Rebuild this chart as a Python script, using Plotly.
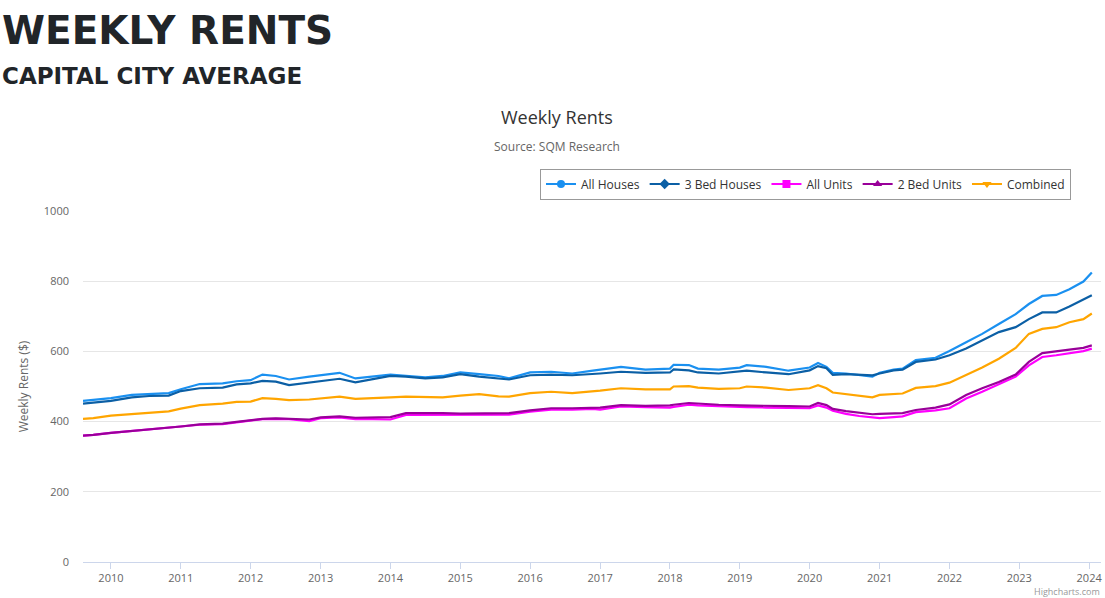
import plotly.graph_objects as go

dates = ["2009-08-08", "2009-10-01", "2010-01-01", "2010-04-20", "2010-07-20", "2010-10-30",
         "2011-01-01", "2011-04-10", "2011-08-08", "2011-10-20", "2012-01-01", "2012-03-03",
         "2012-05-12", "2012-07-20", "2012-11-03", "2013-01-01", "2013-04-10", "2013-07-02",
         "2013-10-01", "2014-01-01", "2014-03-23", "2014-07-02", "2014-10-01", "2015-01-01",
         "2015-04-10", "2015-07-20", "2015-09-13", "2016-01-01", "2016-04-20", "2016-08-08",
         "2016-11-24", "2017-01-01", "2017-04-20", "2017-08-26", "2018-01-01", "2018-01-20",
         "2018-04-10", "2018-05-27", "2018-09-13", "2019-01-01", "2019-02-06", "2019-05-19",
         "2019-09-13", "2020-01-01", "2020-02-14", "2020-03-29", "2020-05-01", "2020-07-09",
         "2020-09-16", "2020-11-24", "2021-01-01", "2021-03-15", "2021-05-01", "2021-07-09",
         "2021-10-20", "2022-01-01", "2022-03-29", "2022-06-21", "2022-09-16", "2022-12-13",
         "2023-02-20", "2023-05-01", "2023-07-13", "2023-09-20", "2023-12-02", "2024-01-15"]

all_houses = [459, 462, 467, 476, 479, 481, 492, 507, 509, 515, 518, 534, 530, 520, 528, 532,
              539, 523, 528, 534, 530, 526, 530, 540, 535, 530, 523, 540, 542, 537, 545, 548,
              556, 548, 551, 562, 561, 551, 548, 554, 561, 556, 545, 554, 567, 556, 539, 537,
              533, 528, 539, 548, 551, 575, 582, 601, 626, 650, 678, 706, 735, 758, 761, 777,
              799, 825]

bed3_houses = [451, 454, 459, 469, 473, 474, 487, 495, 497, 506, 509, 516, 514, 504, 512, 516,
               522, 512, 520, 530, 528, 523, 526, 535, 528, 524, 520, 532, 534, 532, 535, 537,
               542, 539, 540, 549, 546, 540, 537, 542, 545, 540, 535, 546, 558, 552, 533, 535,
               534, 532, 537, 546, 548, 570, 577, 589, 608, 631, 655, 669, 692, 711, 711, 728,
               749, 760]

all_units = [360, 362, 368, 373, 377, 383, 385, 391, 393, 398, 401, 407, 408, 407, 401, 410,
             412, 407, 407, 406, 419, 419, 418, 418, 419, 419, 420, 428, 434, 434, 436, 434,
             443, 441, 440, 442, 448, 446, 443, 441, 441, 440, 438, 438, 446, 440, 431, 422,
             416, 411, 410, 413, 415, 427, 432, 438, 466, 485, 507, 528, 560, 584, 589, 595,
             601, 608]

bed2_units = [360, 362, 368, 373, 378, 383, 386, 392, 394, 399, 403, 408, 409, 408, 406, 412,
              415, 411, 412, 413, 424, 425, 424, 423, 423, 423, 424, 432, 438, 438, 440, 440,
              447, 445, 446, 448, 453, 451, 448, 446, 446, 446, 444, 443, 453, 447, 436, 430,
              426, 421, 422, 423, 424, 433, 440, 449, 476, 495, 513, 534, 570, 595, 601, 605,
              610, 617]

combined = [408, 410, 417, 421, 424, 429, 437, 447, 451, 456, 457, 467, 465, 461, 463, 466,
            471, 465, 466, 469, 471, 471, 469, 474, 478, 472, 471, 481, 485, 481, 486, 488,
            495, 492, 492, 500, 501, 497, 493, 495, 500, 497, 490, 495, 504, 495, 483, 478,
            472, 469, 476, 478, 480, 496, 501, 511, 532, 554, 579, 610, 650, 664, 669, 683,
            692, 708]

series = [
    ("All Houses", all_houses, "#1A90F0", "circle"),
    ("3 Bed Houses", bed3_houses, "#0B5FA5", "diamond"),
    ("All Units", all_units, "#FF00FF", "square"),
    ("2 Bed Units", bed2_units, "#990099", "triangle-up"),
    ("Combined", combined, "#FFA500", "triangle-down"),
]

W, H = 1105, 598
L, R, T, B = 83, 4, 211, 36
PW, PH = W - L - R, H - T - B

def px(x):
    return (x - L) / PW

def py(y):
    return (H - B - y) / PH

fig = go.Figure()
for name, vals, color, sym in series:
    fig.add_trace(go.Scatter(x=dates, y=vals, mode="lines", name=name,
                             line=dict(color=color, width=2.2), showlegend=False,
                             legendgroup=name))
for name, vals, color, sym in series:
    fig.add_trace(go.Scatter(x=[None], y=[None], mode="lines+markers", name=name,
                             line=dict(color=color, width=2),
                             marker=dict(color=color, symbol=sym, size=8),
                             legendgroup=name))

ann = [
    dict(text="<b>WEEKLY RENTS</b>", x=px(0), y=py(30), xanchor="left", yanchor="middle",
         font=dict(family="DejaVu Sans", size=39, color="#212529")),
    dict(text="<b>CAPITAL CITY AVERAGE</b>", x=px(0), y=py(76), xanchor="left", yanchor="middle",
         font=dict(family="DejaVu Sans", size=23, color="#212529")),
    dict(text="Weekly Rents", x=px(557), y=py(117), xanchor="center", yanchor="middle",
         font=dict(family="Open Sans", size=18, color="#333333")),
    dict(text="Source: SQM Research", x=px(557), y=py(147), xanchor="center", yanchor="middle",
         font=dict(family="Open Sans", size=12, color="#666666")),
    dict(text="Highcharts.com", x=px(1102), y=py(591), xanchor="right", yanchor="middle",
         font=dict(family="Open Sans", size=9, color="#999999")),
]
for a in ann:
    a.update(xref="paper", yref="paper", showarrow=False)

fig.update_layout(
    width=W, height=H,
    margin=dict(l=L, r=R, t=T, b=B, autoexpand=False),
    paper_bgcolor="white", plot_bgcolor="white",
    annotations=ann,
    font=dict(family="Open Sans", color="#666666"),
    legend=dict(orientation="h", x=px(1071), xanchor="right", y=py(184), yanchor="middle",
                bordercolor="#999999", borderwidth=1, bgcolor="white",
                font=dict(family="Open Sans", size=12, color="#333333"),
                traceorder="normal", itemwidth=30),
    xaxis=dict(type="date", range=["2009-08-08", "2024-03-03"], tick0="2010-01-01", dtick="M12",
               tickformat="%Y", showgrid=False, showline=True, linecolor="#ccd6eb", linewidth=1,
               ticks="outside", ticklen=6, tickcolor="#ccd6eb",
               tickfont=dict(family="Open Sans", size=11, color="#666666"), zeroline=False),
    yaxis=dict(range=[0, 1000], dtick=200, showgrid=True, gridcolor="#e6e6e6", gridwidth=1,
               zeroline=False, showline=False, ticks="", ticklabelstandoff=13,
               tickfont=dict(family="Open Sans", size=11, color="#666666"),
               title=dict(text="Weekly Rents ($)", font=dict(family="Open Sans", size=12, color="#666666"),
                          standoff=12)),
)

fig.write_html("out.html", config={"displayModeBar": False},
               post_script="document.body.style.margin='0';document.body.style.overflow='hidden';")
